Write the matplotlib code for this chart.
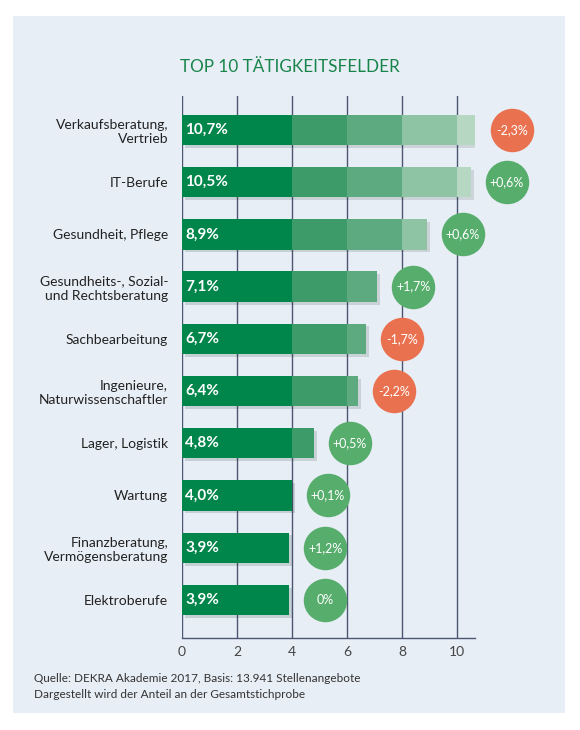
import matplotlib.pyplot as plt
from matplotlib.patches import Rectangle
import matplotlib.patheffects as pe

plt.rcParams['font.family'] = ['Lato', 'DejaVu Sans']

# Daten
felder = ['Verkaufsberatung,\nVertrieb', 'IT-Berufe', 'Gesundheit, Pflege',
          'Gesundheits-, Sozial-\nund Rechtsberatung', 'Sachbearbeitung',
          'Ingenieure,\nNaturwissenschaftler', 'Lager, Logistik', 'Wartung',
          'Finanzberatung,\nVermögensberatung', 'Elektroberufe']
anteil = [10.7, 10.5, 8.9, 7.1, 6.7, 6.4, 4.8, 4.0, 3.9, 3.9]
veraenderung = [-2.3, 0.6, 0.6, 1.7, -1.7, -2.2, 0.5, 0.1, 1.2, 0.0]
ticks = [0, 2, 4, 6, 8, 10]

# Farbstufen der Balken
stufen = [(0, 4, '#00864b'), (4, 6, '#3c9b69'), (6, 8, '#5daa80'),
          (8, 10, '#8ec3a3'), (10, 20, '#b6d8c2')]

fig = plt.figure(figsize=(5.8, 7.3), dpi=100)
fig.patches.append(Rectangle((13 / 580, 1 - 713 / 730), 552 / 580, 697 / 730,
                             transform=fig.transFigure, facecolor='#e8eef6',
                             edgecolor='none', zorder=-10))

ax = fig.add_axes([182 / 580, 1 - 638 / 730, 293 / 580, 542 / 730])
ax.set_zorder(5)
ax.set_facecolor('none')
ax.set_xlim(0, 10.65)
ax.set_ylim(9.73, -0.65)

for t in ticks:
    ax.axvline(t, color='#4b5672', lw=1, zorder=1)

y = range(len(anteil))
for lo, hi, col in stufen:
    w = [max(0, min(v, hi) - lo) for v in anteil]
    ax.barh(y, w, left=lo, height=0.58, color=col, zorder=2,
            path_effects=[pe.SimplePatchShadow(offset=(2, -2), alpha=0.15), pe.Normal()])

for i, v in enumerate(anteil):
    ax.text(0.12, i, f'{v:.1f}%'.replace('.', ','), color='white', fontsize=11,
            fontweight='bold', va='center', ha='left', zorder=5)

for i, (v, d) in enumerate(zip(anteil, veraenderung)):
    col = '#e9714f' if d < 0 else '#56ad6c'
    ax.scatter(v + 1.3, i, s=980, color=col, zorder=4, clip_on=False, linewidths=0)
    if d == 0:
        lbl = '0%'
    else:
        lbl = f'{d:+.1f}%'.replace('.', ',')
    ax.text(v + 1.3, i, lbl, color='white', fontsize=9, ha='center', va='center',
            zorder=5, clip_on=False)

ax.set_yticks(list(y))
ax.set_yticklabels(felder, fontsize=10, color='#222222')
ax.tick_params(axis='y', length=0, pad=10)
ax.set_xticks(ticks)
ax.tick_params(axis='x', length=0, pad=6, labelsize=10, labelcolor='#444444')

for s in ['top', 'right', 'left']:
    ax.spines[s].set_visible(False)
ax.spines['bottom'].set_color('#4b5672')
ax.spines['bottom'].set_linewidth(1)

fig.text(290 / 580, 1 - 67 / 730, 'TOP 10 TÄTIGKEITSFELDER', color='#17844a',
         fontsize=12.3, ha='center', va='center')
fig.text(34 / 580, 1 - 678 / 730, 'Quelle: DEKRA Akademie 2017, Basis: 13.941 Stellenangebote',
         fontsize=8.5, color='#333333', ha='left', va='center')
fig.text(34 / 580, 1 - 694 / 730, 'Dargestellt wird der Anteil an der Gesamtstichprobe',
         fontsize=8.5, color='#333333', ha='left', va='center')

fig.savefig('out.png', dpi=100)
